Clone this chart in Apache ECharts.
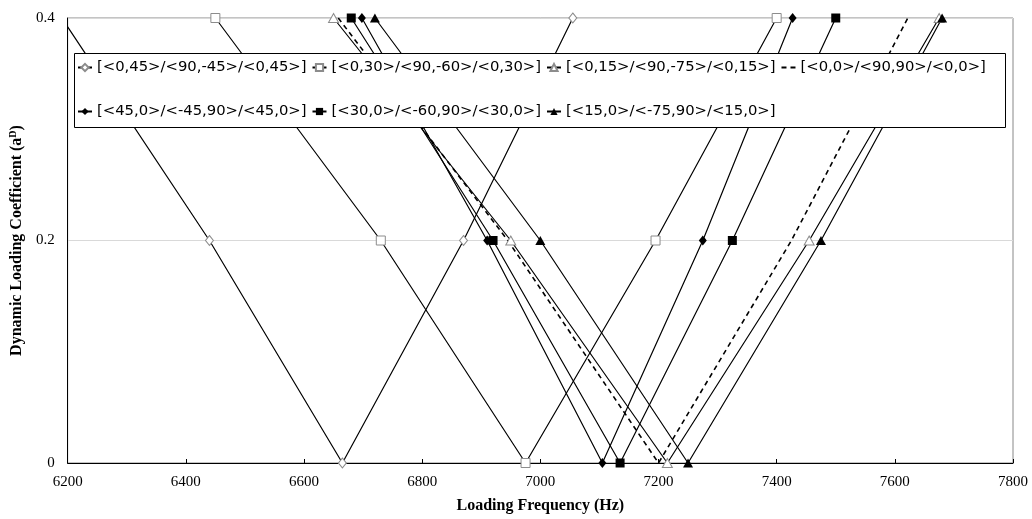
<!DOCTYPE html>
<html>
<head>
<meta charset="utf-8">
<script src="https://cdn.jsdelivr.net/npm/echarts@6/dist/echarts.min.js"></script>
<style>
  html, body { margin: 0; padding: 0; background: #fff; }
  #chart { width: 1032px; height: 519px; }
</style>
</head>
<body>
<div id="chart"></div>
<script>
// coefficient levels each curve passes through (top -> bottom -> top)
const yLevels = [0.4, 0.2, 0, 0.2, 0.4]

const names = [
    '[<0,45>/<90,-45>/<0,45>]',
    '[<0,30>/<90,-60>/<0,30>]',
    '[<0,15>/<90,-75>/<0,15>]',
    '[<0,0>/<90,90>/<0,0>]',
    '[<45,0>/<-45,90>/<45,0>]',
    '[<30,0>/<-60,90>/<30,0>]',
    '[<15,0>/<-75,90>/<15,0>]'
]

// loading frequency (Hz) at each level
const freq0_45 = [6190, 6440, 6665, 6870, 7055]
const freq0_30 = [6450, 6730, 6975, 7195, 7400]
const freq0_15 = [6650, 6950, 7215, 7455, 7675]
const freq0_0 = [6658, 6945, 7200, 7425, 7622]
const freq45_0 = [6698, 6910, 7105, 7275, 7427]
const freq30_0 = [6680, 6920, 7135, 7325, 7500]
const freq15_0 = [6720, 7000, 7250, 7475, 7680]

const xTicks = { min: 6200, max: 7800, interval: 200 }
const yTicks = { min: 0, max: 0.4, interval: 0.2 }

const allFreq = [freq0_45, freq0_30, freq0_15, freq0_0, freq45_0, freq30_0, freq15_0]

const markers = [
    { symbol: 'diamond', size: [8, 10], open: true },
    { symbol: 'rect', size: 9, open: true },
    { symbol: 'triangle', size: [10, 9], open: true },
    { symbol: 'none', size: 0, open: false, dashed: true },
    { symbol: 'diamond', size: [8, 10], open: false },
    { symbol: 'rect', size: 9, open: false },
    { symbol: 'triangle', size: [10, 9], open: false }
]

function buildSeries() {
    return allFreq.map((f, i) => {
        const m = markers[i]
        return {
            name: names[i],
            type: 'line',
            data: f.map((x, k) => [x, yLevels[k]]),
            symbol: m.symbol,
            symbolSize: m.size,
            showSymbol: m.symbol !== 'none',
            clip: true,
            lineStyle: {
                color: '#000',
                width: m.dashed ? 1.6 : 1.2,
                type: m.dashed ? [5, 4] : 'solid'
            },
            itemStyle: m.open
                ? { color: '#fff', borderColor: '#8c8c8c', borderWidth: 1 }
                : { color: '#000', borderColor: '#000', borderWidth: 0 },
            emphasis: { disabled: true },
            z: 2
        }
    })
}

// legend entries; the dashed curve has no marker
function legendItems(list) {
    return list.map(n => {
        const m = markers[names.indexOf(n)]
        if (m.dashed) {
            return { name: n, itemStyle: { color: 'transparent', borderWidth: 0, opacity: 0 } }
        }
        return { name: n }
    })
}

const legendBase = {
    orient: 'horizontal',
    left: 77,
    itemWidth: 14,
    itemHeight: 9,
    itemGap: 5,
    padding: 0,
    z: 10,
    textStyle: {
        fontFamily: 'DejaVu Sans',
        fontSize: 14.8,
        color: '#000'
    }
}

const myChart = echarts.init(document.getElementById('chart'))

const option = {
    animation: false,
    backgroundColor: '#fff',
    grid: {
        left: 60,
        right: 19,
        top: 18,
        bottom: 55,
        show: true,
        borderColor: '#888',
        borderWidth: 1
    },
    graphic: {
        elements: [
            {
                type: 'rect',
                z: 3,
                shape: { x: 74.5, y: 53.5, width: 931, height: 74 },
                style: { fill: '#fff', stroke: '#000', lineWidth: 1 }
            }
        ]
    },
    legend: [
        Object.assign({}, legendBase, { top: 60, data: legendItems(names.slice(0, 4)) }),
        Object.assign({}, legendBase, { top: 104, data: legendItems(names.slice(4)) })
    ],
    xAxis: {
        type: 'value',
        min: xTicks.min,
        max: xTicks.max,
        interval: xTicks.interval,
        name: 'Loading Frequency (Hz)',
        nameLocation: 'middle',
        nameGap: 35,
        nameTextStyle: {
            fontFamily: 'Liberation Serif',
            fontWeight: 'bold',
            fontSize: 16,
            color: '#000'
        },
        axisLine: { lineStyle: { color: '#000', width: 1 } },
        axisTick: { show: true, inside: true, length: 4, lineStyle: { color: '#000' } },
        axisLabel: {
            fontFamily: 'Liberation Serif',
            fontSize: 15,
            color: '#000',
            margin: 12,
            formatter: v => String(v)
        },
        splitLine: { show: false }
    },
    yAxis: {
        type: 'value',
        min: yTicks.min,
        max: yTicks.max,
        interval: yTicks.interval,
        name: 'Dynamic Loading Coefficient (a{sup|D})',
        nameLocation: 'middle',
        nameGap: 33,
        nameRotate: 90,
        nameTextStyle: {
            fontFamily: 'Liberation Serif',
            fontWeight: 'bold',
            fontSize: 16,
            color: '#000',
            rich: {
                sup: {
                    fontFamily: 'Liberation Serif',
                    fontWeight: 'bold',
                    fontSize: 10,
                    verticalAlign: 'top',
                    padding: [0, 0, 8, 0]
                }
            }
        },
        axisLine: { show: true, lineStyle: { color: '#000', width: 1 } },
        axisTick: { show: false },
        axisLabel: {
            fontFamily: 'Liberation Serif',
            fontSize: 15,
            color: '#000',
            margin: 13,
            formatter: v => String(Math.round(v * 10) / 10)
        },
        splitLine: { show: true, lineStyle: { color: '#d9d9d9', width: 1 } }
    },
    series: buildSeries()
}

myChart.setOption(option)
</script>
</body>
</html>
